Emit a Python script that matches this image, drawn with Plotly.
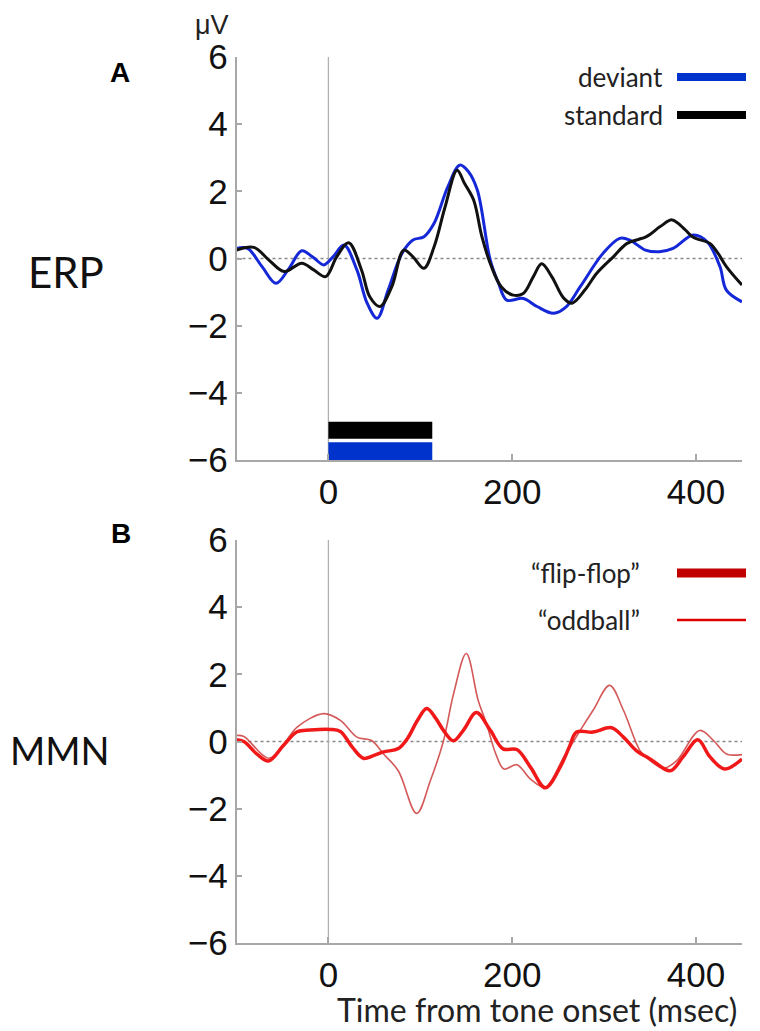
import plotly.graph_objects as go

W, H = 760, 1031

# ---------------- data ----------------
dev_t = [-100, -88, -72, -57, -43, -29, -16, -5, 5, 17, 31, 42, 53, 65, 80, 92, 104, 115, 130, 143, 152, 162, 176, 185, 194, 212, 227, 245, 259, 274, 299, 317, 328, 345, 360, 375, 397, 412, 426, 433, 450]
dev_v = [0.30, 0.30, -0.25, -0.74, -0.30, 0.23, 0.02, -0.19, 0.05, 0.40, -0.34, -1.32, -1.78, -0.94, 0.15, 0.55, 0.65, 1.05, 2.14, 2.78, 2.60, 2.04, -0.04, -0.73, -1.24, -1.19, -1.43, -1.63, -1.43, -0.84, 0.16, 0.60, 0.55, 0.25, 0.20, 0.30, 0.70, 0.50, -0.24, -0.94, -1.29]

std_t = [-100, -81, -65, -48, -29, -16, -3, 9, 22, 36, 45, 56, 69, 82, 92, 104, 115, 127, 140, 148, 158, 167, 176, 188, 201, 212, 223, 232, 243, 256, 265, 279, 292, 310, 325, 346, 361, 374, 388, 397, 415, 424, 433, 450]
std_v = [0.25, 0.33, -0.04, -0.39, -0.14, -0.34, -0.54, 0.05, 0.47, -0.34, -1.14, -1.43, -0.84, 0.25, 0.05, -0.29, 0.35, 1.54, 2.63, 2.24, 1.74, 0.65, -0.14, -0.84, -1.09, -1.04, -0.54, -0.16, -0.54, -1.18, -1.33, -0.94, -0.44, 0.05, 0.45, 0.65, 0.95, 1.15, 0.86, 0.63, 0.45, 0.15, -0.24, -0.79]

flip_t = [-100, -92, -78, -65, -49, -34, -20, 2, 13, 26, 38, 49, 60, 76, 86, 97, 107, 117, 125, 136, 147, 161, 176, 190, 205, 220, 236, 252, 262, 270, 288, 308, 321, 335, 350, 372, 386, 402, 415, 431, 450]
flip_v = [0.05, 0.00, -0.37, -0.58, -0.12, 0.29, 0.34, 0.36, 0.30, -0.17, -0.50, -0.42, -0.31, -0.21, 0.09, 0.63, 0.98, 0.68, 0.34, 0.02, 0.34, 0.86, 0.34, -0.22, -0.24, -0.77, -1.38, -0.77, -0.17, 0.28, 0.28, 0.41, 0.13, -0.27, -0.52, -0.87, -0.45, 0.05, -0.45, -0.82, -0.52]

odd_t = [-100, -92, -65, -48, -34, -5, 13, 31, 47, 60, 76, 96, 111, 125, 136, 150, 163, 172, 182, 191, 205, 220, 236, 256, 274, 288, 306, 321, 339, 350, 365, 379, 404, 419, 433, 450]
odd_v = [0.18, 0.15, -0.50, -0.05, 0.43, 0.83, 0.63, 0.13, 0.03, -0.37, -0.87, -2.14, -1.16, 0.00, 1.40, 2.62, 1.22, 0.53, -0.36, -0.82, -0.69, -1.12, -1.36, -0.47, 0.33, 0.93, 1.67, 0.93, -0.27, -0.57, -0.79, -0.57, 0.33, 0.03, -0.37, -0.39]

# significance bars (top panel): onset, offset (ms), level (uV)
bar_names = ["standard", "deviant"]
bar_start = [0, 0]
bar_end = [113, 113]
bar_level = [-5.115, -5.74]
bar_thick = [0.51, 0.53]
bar_colors = ["#000000", "#0033cc"]

x_ticks = [0, 200, 400]
y_ticks = [-6, -4, -2, 0, 2, 4, 6]
y_ticktext = ["\u22126", "\u22124", "\u22122", "0", "2", "4", "6"]

x_range = [-100, 450]
y_range = [-6, 6]

# ---------------- layout helpers ----------------
OFF = 8  # page body margin

def px_x(p):
    return (p - OFF) / W

def px_y(p):
    return 1 - (p - OFF) / H

X0, X1 = 236.5, 742
TOP = (57, 460)
BOT = (540, 943)

AX_COL = "#a8a8a8"
TICK_FONT = dict(family="Liberation Sans, Arial, sans-serif", size=35, color="#111111")
TXT_FONT = "Lato, Open Sans, sans-serif"

fig = go.Figure()

fig.add_trace(go.Scatter(x=dev_t, y=dev_v, mode="lines", line=dict(color="#1428d8", width=3, shape="spline", smoothing=1.0),
                         xaxis="x", yaxis="y", showlegend=False))
fig.add_trace(go.Scatter(x=std_t, y=std_v, mode="lines", line=dict(color="#111111", width=3, shape="spline", smoothing=1.0),
                         xaxis="x", yaxis="y", showlegend=False))

for i in range(len(bar_names)):
    fig.add_trace(go.Bar(y=[bar_level[i]], x=[bar_end[i] - bar_start[i]], base=[bar_start[i]], width=[bar_thick[i]],
                         orientation="h", marker=dict(color=bar_colors[i], line=dict(width=0)),
                         xaxis="x", yaxis="y", showlegend=False))

fig.add_trace(go.Scatter(x=odd_t, y=odd_v, mode="lines", line=dict(color="rgba(205,60,60,0.85)", width=1.6, shape="spline", smoothing=1.0),
                         xaxis="x2", yaxis="y2", showlegend=False))
fig.add_trace(go.Scatter(x=flip_t, y=flip_v, mode="lines", line=dict(color="#f01818", width=3.5, shape="spline", smoothing=1.0),
                         xaxis="x2", yaxis="y2", showlegend=False))

xa = dict(range=x_range, tickvals=x_ticks, ticks="inside", ticklen=6, tickcolor=AX_COL, tickwidth=1.5,
          showline=True, linecolor=AX_COL, linewidth=1.5, showgrid=False, zeroline=False, automargin=False,
          tickfont=TICK_FONT, domain=[px_x(X0), px_x(X1)], fixedrange=True)
ya = dict(range=y_range, tickvals=y_ticks, ticktext=y_ticktext, ticks="inside", ticklen=6, tickcolor=AX_COL, tickwidth=1.5,
          showline=True, linecolor=AX_COL, linewidth=1.5, showgrid=False, zeroline=False, automargin=False,
          tickfont=TICK_FONT, fixedrange=True)

fig.update_layout(
    width=W, height=H,
    margin=dict(l=0, r=0, t=0, b=0, pad=0, autoexpand=False),
    paper_bgcolor="white", plot_bgcolor="white",
    barmode="overlay",
    xaxis=dict(xa, anchor="y"),
    yaxis=dict(ya, anchor="x", domain=[px_y(TOP[1]), px_y(TOP[0])]),
    xaxis2=dict(xa, anchor="y2"),
    yaxis2=dict(ya, anchor="x2", domain=[px_y(BOT[1]), px_y(BOT[0])]),
)

# reference lines: zero-voltage dotted, stimulus onset
for xr, yr in [("x", "y"), ("x2", "y2")]:
    fig.add_shape(type="line", xref=xr + " domain", yref=yr, x0=0, x1=1, y0=0, y1=0,
                  line=dict(color="#888888", width=1.3, dash="dot"), layer="below")
    fig.add_shape(type="line", xref=xr, yref=yr + " domain", x0=0, x1=0, y0=0, y1=1,
                  line=dict(color="#b0b0b0", width=1.3), layer="below")

# legends (text left, line sample right)
legend_items = [
    ("deviant", 77, "#0033cc", 8, 665),
    ("standard", 115, "#000000", 8, 665),
    ("\u201cflip-flop\u201d", 573, "#c00000", 9, 642),
    ("\u201coddball\u201d", 620, "#dd0000", 2.5, 642),
]
for label, yp, col, lw, xr in legend_items:
    fig.add_annotation(x=px_x(xr), y=px_y(yp), xref="paper", yref="paper", text=label, showarrow=False,
                       xanchor="right", yanchor="middle", font=dict(family=TXT_FONT, size=26, color="#222222"))
    fig.add_shape(type="line", xref="paper", yref="paper", x0=px_x(677), x1=px_x(746), y0=px_y(yp), y1=px_y(yp),
                  line=dict(color=col, width=lw))

# text labels
fig.add_annotation(x=px_x(120), y=px_y(72), xref="paper", yref="paper", text="<b>A</b>", showarrow=False,
                   xanchor="center", yanchor="middle", font=dict(family="Liberation Sans, Arial", size=28, color="black"))
fig.add_annotation(x=px_x(121), y=px_y(533), xref="paper", yref="paper", text="<b>B</b>", showarrow=False,
                   xanchor="center", yanchor="middle", font=dict(family="Liberation Sans, Arial", size=28, color="black"))
fig.add_annotation(x=px_x(212), y=px_y(8), xref="paper", yref="paper", text="\u03bcV", showarrow=False,
                   xanchor="center", yanchor="top", font=dict(family="Liberation Sans, Arial", size=27, color="#222222"))
fig.add_annotation(x=px_x(66), y=px_y(272), xref="paper", yref="paper", text="ERP", showarrow=False,
                   xanchor="center", yanchor="middle", font=dict(family=TXT_FONT, size=42, color="#111111"))
fig.add_annotation(x=px_x(8), y=px_y(750), xref="paper", yref="paper", text="MMN", showarrow=False,
                   xanchor="left", yanchor="middle", font=dict(family=TXT_FONT, size=38, color="#111111"))
fig.add_annotation(x=px_x(739), y=px_y(1031), xref="paper", yref="paper", text="Time from tone onset (msec)", showarrow=False,
                   xanchor="right", yanchor="bottom", font=dict(family=TXT_FONT, size=32, color="#222222"))

fig.write_html("out.html")
